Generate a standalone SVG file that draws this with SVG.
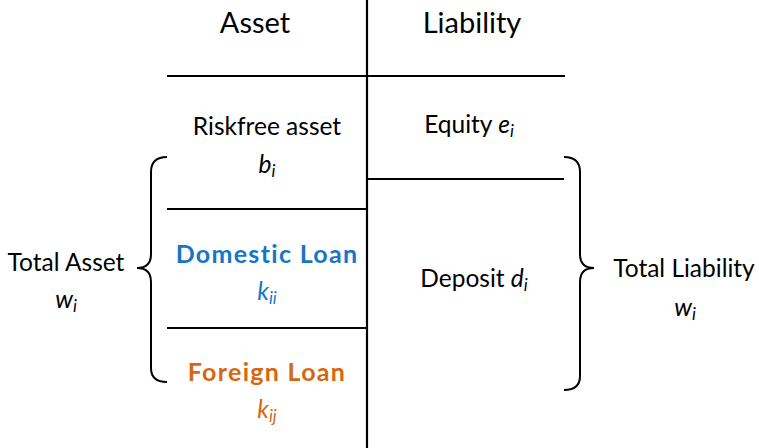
<svg xmlns="http://www.w3.org/2000/svg" width="759" height="448" viewBox="0 0 759 448">
<style>
.t{font-family:Lato,"Open Sans",sans-serif;font-size:24.5px;fill:#000;text-anchor:middle}
.h{font-size:29px}
.i{font-style:italic}
.s{font-size:17px;font-style:italic}
.b{font-weight:bold;font-size:25px;letter-spacing:1.3px}
.blue{fill:#1676C6}
.org{fill:#D6680E}
.ln{stroke:#000;stroke-width:2.2;fill:none}
.br{stroke:#000;stroke-width:2;fill:none}
</style>
<rect width="759" height="448" fill="#fff"/>
<g id="connectors">
<line class="ln" x1="367" y1="0" x2="367" y2="448" stroke-width="2.8"/>
<line class="ln" x1="167" y1="76" x2="565" y2="76"/>
<line class="ln" x1="167" y1="209" x2="367" y2="209"/>
<line class="ln" x1="167" y1="328" x2="367" y2="328"/>
<line class="ln" x1="367" y1="179" x2="564" y2="179"/>
<path class="br" d="M167,157 Q151,157 151,172 L151,254 Q151,268 137,268 Q151,268 151,282 L151,368 Q151,382 167,382"/>
<path class="br" d="M564,157 Q580,157 580,172 L580,254 Q580,268 594,268 Q580,268 580,282 L580,376 Q580,390 564,390"/>
</g>
<g id="asset-header"><text class="t h" x="255" y="33">Asset</text></g>
<g id="liability-header"><text class="t h" x="472" y="33">Liability</text></g>
<g id="riskfree">
<text class="t" x="267" y="135">Riskfree asset</text>
<text class="t" x="267" y="173"><tspan class="i">b</tspan><tspan class="s" dy="4">i</tspan></text>
</g>
<g id="domestic">
<text class="t b blue" x="267" y="263">Domestic Loan</text>
<text class="t blue" x="267" y="300"><tspan class="i">k</tspan><tspan class="s" dy="4">ii</tspan></text>
</g>
<g id="foreign">
<text class="t b org" x="267" y="381">Foreign Loan</text>
<text class="t org" x="267" y="418"><tspan class="i">k</tspan><tspan class="s" dy="4">ij</tspan></text>
</g>
<g id="equity"><text class="t" x="469" y="133">Equity <tspan class="i">e</tspan><tspan class="s" dy="4">i</tspan></text></g>
<g id="deposit"><text class="t" x="474" y="287">Deposit <tspan class="i">d</tspan><tspan class="s" dy="4">i</tspan></text></g>
<g id="total-asset">
<text class="t" x="66" y="271">Total Asset</text>
<text class="t" x="66" y="308"><tspan class="i">w</tspan><tspan class="s" dy="4">i</tspan></text>
</g>
<g id="total-liability">
<text class="t" x="684" y="277">Total Liability</text>
<text class="t" x="685" y="316"><tspan class="i">w</tspan><tspan class="s" dy="4">i</tspan></text>
</g>
</svg>
